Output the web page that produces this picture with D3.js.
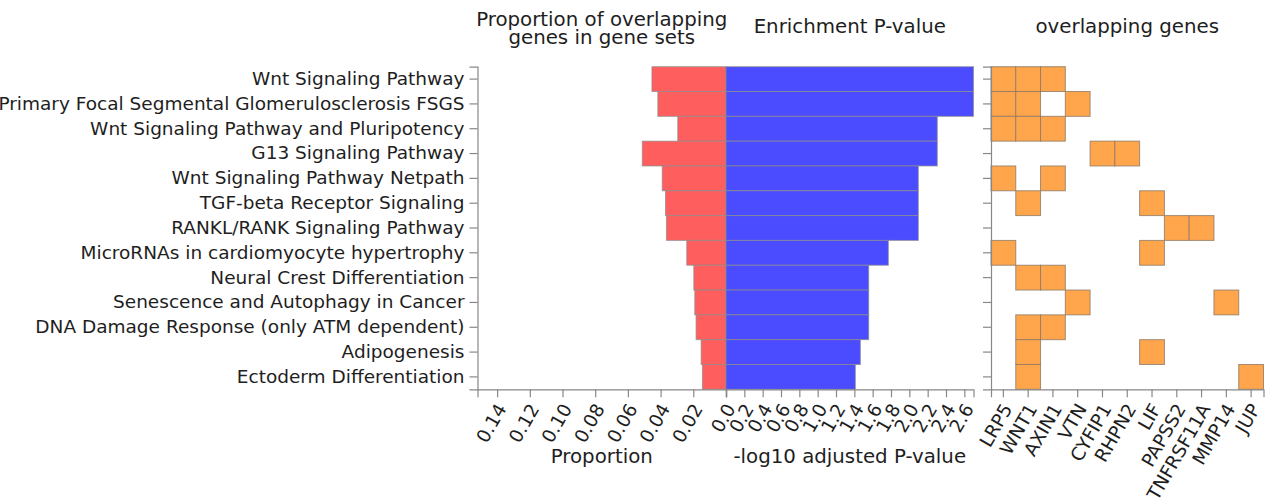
<!DOCTYPE html>
<html>
<head>
<meta charset="utf-8">
<script src="https://cdn.jsdelivr.net/npm/d3@7"></script>
<style>
  html, body { margin: 0; padding: 0; background: #fff; }
  svg { display: block; font-family: "DejaVu Sans", sans-serif; }
  .axis path, .axis line { stroke: #888; stroke-width: 1.2; }
  .axis text { fill: #1e1e1e; font-size: 18.5px; font-family: "DejaVu Sans", sans-serif; }
  .title { fill: #1e1e1e; font-size: 19.8px; }
</style>
</head>
<body>
<svg id="chart" width="1265" height="500"></svg>
<script>
// Gene sets, top to bottom
const pathways = [
  "Wnt Signaling Pathway",
  "Primary Focal Segmental Glomerulosclerosis FSGS",
  "Wnt Signaling Pathway and Pluripotency",
  "G13 Signaling Pathway",
  "Wnt Signaling Pathway Netpath",
  "TGF-beta Receptor Signaling",
  "RANKL/RANK Signaling Pathway",
  "MicroRNAs in cardiomyocyte hypertrophy",
  "Neural Crest Differentiation",
  "Senescence and Autophagy in Cancer",
  "DNA Damage Response (only ATM dependent)",
  "Adipogenesis",
  "Ectoderm Differentiation"
];

// Proportion of overlapping genes in each gene set
const proportion = [0.0453, 0.0417, 0.0295, 0.0512, 0.0390, 0.0370, 0.0364,
                    0.0240, 0.0197, 0.0191, 0.0183, 0.0152, 0.0144];

// -log10 adjusted P-value
const negLogP = [2.70, 2.70, 2.305, 2.305, 2.098, 2.098, 2.098,
                 1.771, 1.557, 1.557, 1.557, 1.466, 1.411];

// Genes shown in the overlap matrix
const genes = ["LRP5", "WNT1", "AXIN1", "VTN", "CYFIP1", "RHPN2", "LIF",
               "PAPSS2", "TNFRSF11A", "MMP14", "JUP"];

// Overlapping genes per gene set
const overlaps = [
  ["LRP5", "WNT1", "AXIN1"],
  ["LRP5", "WNT1", "VTN"],
  ["LRP5", "WNT1", "AXIN1"],
  ["CYFIP1", "RHPN2"],
  ["LRP5", "AXIN1"],
  ["WNT1", "LIF"],
  ["PAPSS2", "TNFRSF11A"],
  ["LRP5", "LIF"],
  ["WNT1", "AXIN1"],
  ["VTN", "MMP14"],
  ["WNT1", "AXIN1"],
  ["WNT1", "LIF"],
  ["WNT1", "JUP"]
];

// Axis ticks
const propTicks = [0.02, 0.04, 0.06, 0.08, 0.10, 0.12, 0.14];
const pTicks = [0.0, 0.2, 0.4, 0.6, 0.8, 1.0, 1.2, 1.4, 1.6, 1.8, 2.0, 2.2, 2.4, 2.6];
const propMax = 0.152;

const svg = d3.select("#chart");

const plotTop = 66.7, plotBottom = 389.3;
const leftX0 = 477.5, midX = 726, rightX1 = 973.5;
const gridX0 = 991, gridX1 = 1263.5;

const y = d3.scaleBand().domain(pathways).range([plotTop, plotBottom]).padding(0);
const xProp = d3.scaleLinear().domain([propMax, 0]).range([leftX0, midX]);
const xP = d3.scaleLinear().domain([0, d3.max(negLogP)]).range([midX, rightX1]);
const xGene = d3.scaleBand().domain(genes).range([gridX0, gridX1]).padding(0);
const yGene = d3.scaleBand().domain(pathways).range([plotTop, plotBottom]).padding(0);

const rows = pathways.map((p, i) => ({ name: p, prop: proportion[i], p: negLogP[i] }));

// Proportion bars (pointing left)
svg.append("g").selectAll("rect").data(rows).join("rect")
  .attr("x", d => xProp(d.prop))
  .attr("y", d => y(d.name))
  .attr("width", d => xProp(0) - xProp(d.prop))
  .attr("height", y.bandwidth())
  .attr("fill", "#ff5e5e")
  .attr("stroke", "rgba(140,140,140,0.7)")
  .attr("stroke-width", 1);

// P-value bars (pointing right)
svg.append("g").selectAll("rect").data(rows).join("rect")
  .attr("x", xP(0))
  .attr("y", d => y(d.name))
  .attr("width", d => xP(d.p) - xP(0))
  .attr("height", y.bandwidth())
  .attr("fill", "#4b4bff")
  .attr("stroke", "rgba(140,140,140,0.7)")
  .attr("stroke-width", 1);

// Overlap matrix cells
const cells = [];
overlaps.forEach((gs, i) => gs.forEach(g => cells.push({ row: pathways[i], gene: g })));
svg.append("g").selectAll("rect").data(cells).join("rect")
  .attr("x", d => xGene(d.gene))
  .attr("y", d => yGene(d.row))
  .attr("width", xGene.bandwidth())
  .attr("height", yGene.bandwidth())
  .attr("fill", "#ffa64d")
  .attr("stroke", "rgba(140,120,100,0.8)")
  .attr("stroke-width", 1);

// Category axis
svg.append("g").attr("class", "axis")
  .attr("transform", `translate(${leftX0},0)`)
  .call(d3.axisLeft(y).tickSize(8).tickSizeOuter(8).tickPadding(5));

// Proportion axis
const gProp = svg.append("g").attr("class", "axis")
  .attr("transform", `translate(0,${plotBottom})`)
  .call(d3.axisBottom(xProp).tickValues([0].concat(propTicks))
    .tickFormat(d => d === 0 ? "" : d3.format(".2f")(d))
    .tickSize(8).tickSizeOuter(8).tickPadding(4));

// P-value axis
const gP = svg.append("g").attr("class", "axis")
  .attr("transform", `translate(0,${plotBottom})`)
  .call(d3.axisBottom(xP).tickValues(pTicks).tickFormat(d3.format(".1f"))
    .tickSize(8).tickSizeOuter(8).tickPadding(4));

// Gene matrix axes
svg.append("g").attr("class", "axis")
  .attr("transform", `translate(${gridX0},0)`)
  .call(d3.axisLeft(yGene).tickSize(8).tickSizeOuter(8).tickFormat(""));

const gGene = svg.append("g").attr("class", "axis")
  .attr("transform", `translate(0,${plotBottom})`)
  .call(d3.axisBottom(xGene).tickSize(8).tickSizeOuter(8).tickPadding(4));

// Rotate bottom tick labels
[gProp, gP, gGene].forEach(g => {
  g.selectAll(".tick text")
    .attr("text-anchor", "end")
    .attr("dy", "0.35em")
    .attr("transform", function () {
      const yy = +d3.select(this).attr("y");
      return `translate(4,${yy + 4}) rotate(-60)`;
    })
    .attr("y", 0);
});

// Panel titles
const titles = [
  { x: (leftX0 + midX) / 2, y: 26, text: "Proportion of overlapping" },
  { x: (leftX0 + midX) / 2, y: 44, text: "genes in gene sets" },
  { x: (midX + rightX1) / 2, y: 33, text: "Enrichment P-value" },
  { x: (gridX0 + gridX1) / 2, y: 33, text: "overlapping genes" },
  { x: (leftX0 + midX) / 2, y: 463, text: "Proportion" },
  { x: (midX + rightX1) / 2, y: 463, text: "-log10 adjusted P-value" }
];
svg.append("g").selectAll("text").data(titles).join("text")
  .attr("class", "title")
  .attr("x", d => d.x)
  .attr("y", d => d.y)
  .attr("text-anchor", "middle")
  .text(d => d.text);
</script>
</body>
</html>
